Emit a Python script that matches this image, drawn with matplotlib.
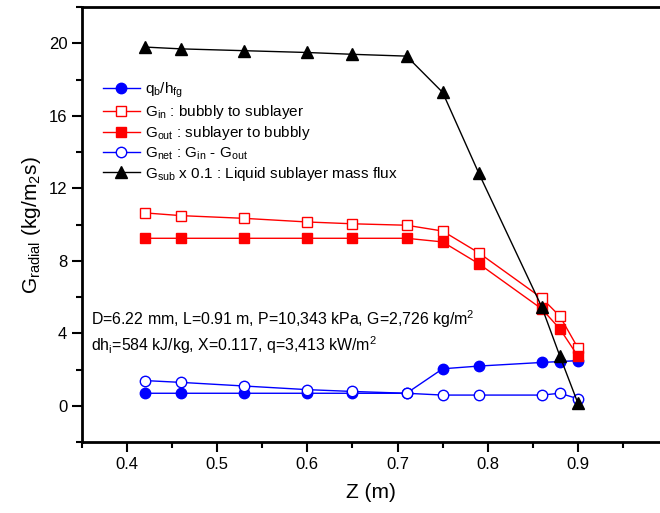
import matplotlib.pyplot as plt
from matplotlib.ticker import MultipleLocator

plt.rcParams['font.family'] = ['Liberation Sans', 'DejaVu Sans']
plt.rcParams['mathtext.fontset'] = 'custom'
plt.rcParams['mathtext.rm'] = 'Liberation Sans'
plt.rcParams['mathtext.it'] = 'Liberation Sans'

# axial position (m)
z = [0.42, 0.46, 0.53, 0.60, 0.65, 0.71, 0.75, 0.79, 0.86, 0.88, 0.90]

# series
qb_hfg = [0.7, 0.7, 0.7, 0.7, 0.7, 0.7, 2.05, 2.2, 2.4, 2.45, 2.5]
g_in = [10.65, 10.5, 10.35, 10.15, 10.05, 9.97, 9.65, 8.45, 5.95, 4.95, 3.2]
g_out = [9.25, 9.25, 9.25, 9.25, 9.25, 9.25, 9.05, 7.85, 5.35, 4.25, 2.75]
g_net = [1.4, 1.3, 1.1, 0.9, 0.8, 0.7, 0.6, 0.6, 0.6, 0.7, 0.4]
g_sub = [19.8, 19.7, 19.6, 19.5, 19.4, 19.3, 17.3, 12.85, 5.45, 2.75, 0.15]

fig = plt.figure(figsize=(6.6, 5.13), dpi=100)
ax = fig.add_axes([0.124, 0.138, 0.876, 0.848])

ax.plot(z, qb_hfg, color='blue', lw=1, marker='o', ms=7.5,
        label=r'q$_\mathrm{b}$/h$_\mathrm{fg}$')
ax.plot(z, g_in, color='red', lw=1, marker='s', ms=7, mfc='white', mec='red',
        label=r'G$_\mathrm{in}$ : bubbly to sublayer')
ax.plot(z, g_out, color='red', lw=1, marker='s', ms=7,
        label=r'G$_\mathrm{out}$ : sublayer to bubbly')
ax.plot(z, g_net, color='blue', lw=1, marker='o', ms=7.5, mfc='white', mec='blue',
        label=r'G$_\mathrm{net}$ : G$_\mathrm{in}$ - G$_\mathrm{out}$')
ax.plot(z, g_sub, color='black', lw=1, marker='^', ms=8.5,
        label=r'G$_\mathrm{sub}$ x 0.1 : Liquid sublayer mass flux')

ax.set_xlim(0.35, 0.991)
ax.set_ylim(-2, 22)
ax.xaxis.set_major_locator(MultipleLocator(0.1))
ax.xaxis.set_minor_locator(MultipleLocator(0.05))
ax.yaxis.set_major_locator(MultipleLocator(4))
ax.yaxis.set_minor_locator(MultipleLocator(2))
ax.tick_params(which='both', direction='out', width=1.5, labelsize=12)
ax.tick_params(which='major', length=7)
ax.tick_params(which='minor', length=4)

ax.spines['right'].set_visible(False)
for s in ['left', 'bottom', 'top']:
    ax.spines[s].set_linewidth(2)

ax.set_xlabel('Z (m)', fontsize=15, labelpad=8)
ax.set_ylabel(r'G$_\mathrm{radial}$ (kg/m$_\mathrm{2}$s)', fontsize=15, labelpad=4)

ax.legend(loc='upper left', bbox_to_anchor=(0.026, 0.845), frameon=False,
          fontsize=11, handlelength=2.4, handletextpad=0.35, labelspacing=0.2,
          borderaxespad=0.0)

ax.text(0.36, 4.45, r'D=6.22 mm, L=0.91 m, P=10,343 kPa, G=2,726 kg/m$^2$', fontsize=11.4)
ax.text(0.36, 3.05, r'dh$_\mathrm{i}$=584 kJ/kg, X=0.117, q=3,413 kW/m$^2$', fontsize=11.4)

fig.savefig('out.png', dpi=100)
